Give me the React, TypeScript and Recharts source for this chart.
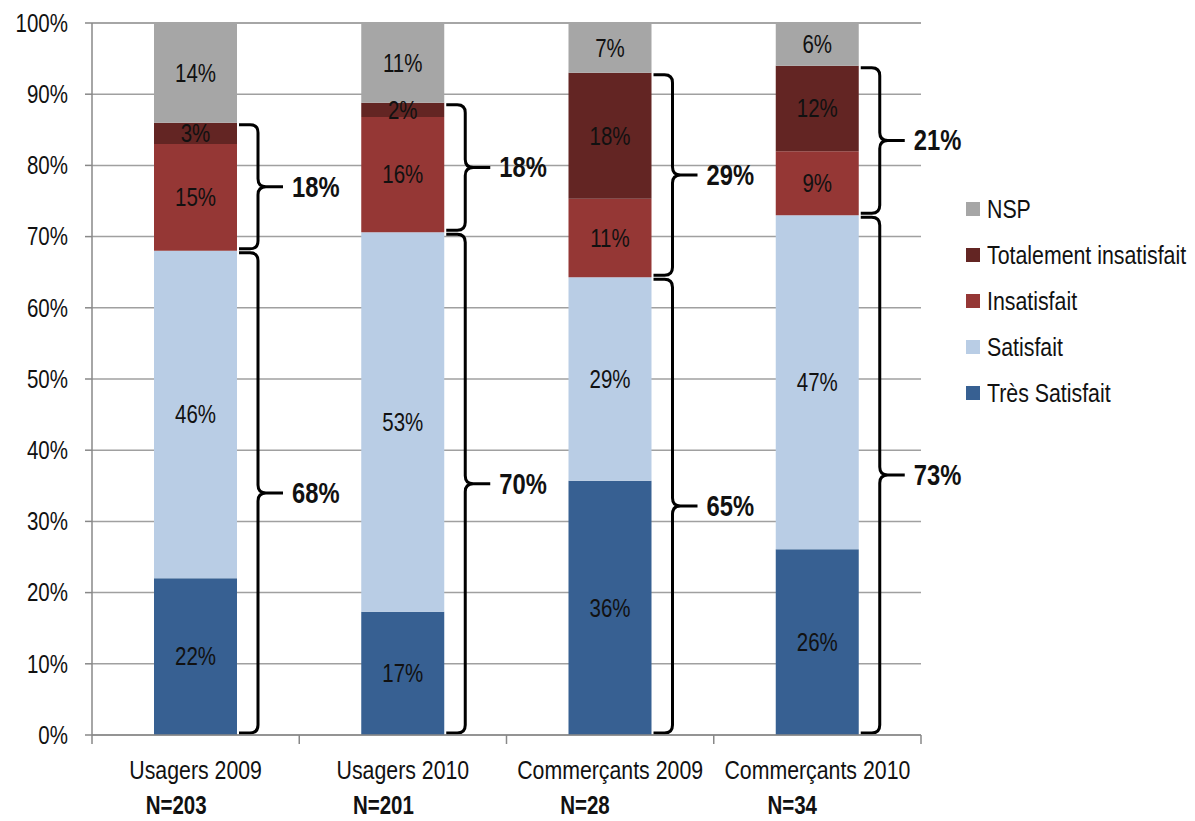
import { BarChart, Bar, XAxis, YAxis, CartesianGrid, Legend, LabelList, Rectangle } from 'recharts'

const categories = ['Usagers 2009', 'Usagers 2010', 'Commerçants 2009', 'Commerçants 2010']
const sampleSizes = ['N=203', 'N=201', 'N=28', 'N=34']
const tresSatisfait = [22.0, 17.3, 35.7, 26.1]
const satisfait = [46.0, 53.3, 28.6, 46.9]
const insatisfait = [15.0, 16.2, 11.0, 9.0]
const totalementInsatisfait = [3.0, 2.0, 17.7, 12.0]
const nsp = [14.0, 11.2, 7.0, 6.0]
const satisfiedTotals = [68, 70, 65, 73]
const dissatisfiedTotals = [18, 18, 29, 21]
const yTicks = [0, 10, 20, 30, 40, 50, 60, 70, 80, 90, 100]

// no Arial Narrow offline: squeeze Liberation Sans horizontally instead
const FONT = '"Liberation Sans", Arial, sans-serif'
const SQUEEZE = 0.82

const series = [
  { key: 'tres', name: 'Très Satisfait', color: '#376092' },
  { key: 'sat', name: 'Satisfait', color: '#B9CDE5' },
  { key: 'insat', name: 'Insatisfait', color: '#953735' },
  { key: 'totInsat', name: 'Totalement insatisfait', color: '#632523' },
  { key: 'nsp', name: 'NSP', color: '#A6A6A6' },
]

const data = categories.map((name, i) => ({
  name,
  n: sampleSizes[i],
  tres: tresSatisfait[i],
  sat: satisfait[i],
  insat: insatisfait[i],
  totInsat: totalementInsatisfait[i],
  nsp: nsp[i],
}))

function NText({ x, y, size, bold, anchor = 'middle', children }: any) {
  return (
    <text
      transform={`translate(${x},${y}) scale(${SQUEEZE},1)`}
      textAnchor={anchor}
      dominantBaseline="central"
      fontFamily={FONT}
      fontSize={size}
      fontWeight={bold ? 'bold' : 'normal'}
      fill="#111"
    >
      {children}
    </text>
  )
}

function bracePath(x0: number, top: number, bottom: number) {
  const xv = x0 + 19
  const xn = xv + 25
  const r = 8
  const mid = (top + bottom) / 2
  return [
    `M${x0},${top + 2} L${xv - r},${top + 2} Q${xv},${top + 2} ${xv},${top + 2 + r}`,
    `L${xv},${mid - r} Q${xv},${mid} ${xv + r},${mid} L${xn},${mid}`,
    `M${xv + r},${mid} Q${xv},${mid} ${xv},${mid + r}`,
    `L${xv},${bottom - 2 - r} Q${xv},${bottom - 2} ${xv - r},${bottom - 2} L${x0},${bottom - 2}`,
  ].join(' ')
}

function Brace({ x, top, bottom, label }: { x: number; top: number; bottom: number; label: number }) {
  const mid = (top + bottom) / 2
  return (
    <g>
      <path d={bracePath(x + 2, top, bottom)} fill="none" stroke="#000" strokeWidth={3} />
      <NText x={x + 55} y={mid} size={29} bold anchor="start">
        {label}%
      </NText>
    </g>
  )
}

// Satisfait segment + brace down to the baseline
function SatShape(props: any) {
  const { x, y, width, height, payload, index, fill } = props
  const ppu = height / payload.sat
  const bottom = y + height + payload.tres * ppu
  return (
    <g>
      <Rectangle x={x} y={y} width={width} height={height} fill={fill} />
      <Brace x={x + width} top={y} bottom={bottom} label={satisfiedTotals[index]} />
    </g>
  )
}

// Totalement insatisfait segment + brace covering both dissatisfied segments
function TotShape(props: any) {
  const { x, y, width, height, payload, index, fill } = props
  const ppu = height / payload.totInsat
  const bottom = y + height + payload.insat * ppu
  return (
    <g>
      <Rectangle x={x} y={y} width={width} height={height} fill={fill} />
      <Brace x={x + width} top={y} bottom={bottom} label={dissatisfiedTotals[index]} />
    </g>
  )
}

function CategoryTick(props: any) {
  const { x, y, payload, index } = props
  const half = payload.offset || 103.5
  return (
    <g>
      <line x1={x - half} y1={y - 8} x2={x - half} y2={y + 1} stroke="#888" strokeWidth={1.5} />
      {index === categories.length - 1 && (
        <line x1={x + half} y1={y - 8} x2={x + half} y2={y + 1} stroke="#888" strokeWidth={1.5} />
      )}
      <NText x={x} y={y + 27} size={26}>
        {payload.value}
      </NText>
      <NText x={x - 50} y={y + 62} size={25} bold anchor="start">
        {sampleSizes[index]}
      </NText>
    </g>
  )
}

function PercentTick(props: any) {
  const { x, y, payload } = props
  return (
    <NText x={x} y={y} size={25} anchor="end">
      {payload.value}%
    </NText>
  )
}

function SegmentLabel(props: any) {
  const box = props.viewBox || props
  const { x, y, width, height } = box
  return (
    <NText x={x + width / 2} y={y + height / 2} size={25}>
      {Math.round(Number(props.value))}%
    </NText>
  )
}

function LegendContent() {
  const items = [...series].reverse()
  return (
    <div style={{ fontFamily: FONT, fontSize: 26, color: '#111' }}>
      {items.map((s) => (
        <div key={s.key} style={{ display: 'flex', alignItems: 'center', height: 46 }}>
          <span style={{ width: 14, height: 14, background: s.color, marginRight: 7, flex: 'none' }} />
          <span
            style={{
              display: 'inline-block',
              whiteSpace: 'nowrap',
              transform: `scaleX(${SQUEEZE})`,
              transformOrigin: 'left center',
            }}
          >
            {s.name}
          </span>
        </div>
      ))}
    </div>
  )
}

export default function App() {
  return (
    <div style={{ position: 'absolute', left: 0, top: 0, width: 1195, height: 821, background: '#fff' }}>
      <BarChart
        width={1195}
        height={821}
        data={data}
        margin={{ top: 23, right: 38, left: 0, bottom: 0 }}
        barSize={83}
      >
        <CartesianGrid vertical={false} stroke="#A0A0A0" strokeWidth={1.5} />
        <XAxis
          dataKey="name"
          height={86}
          axisLine={{ stroke: '#888', strokeWidth: 1.5 }}
          tickLine={false}
          tick={<CategoryTick />}
          interval={0}
        />
        <YAxis
          width={92}
          domain={[0, 100]}
          ticks={yTicks}
          axisLine={{ stroke: '#888', strokeWidth: 1.5 }}
          tickLine={{ stroke: '#888', strokeWidth: 1.5 }}
          tickSize={7}
          tickMargin={17}
          tick={<PercentTick />}
          interval={0}
        />
        <Legend
          layout="horizontal"
          verticalAlign="middle"
          align="right"
          content={<LegendContent />}
          wrapperStyle={{ left: 966, top: 186, width: 236 }}
        />
        {series.map((s) => (
          <Bar
            key={s.key}
            dataKey={s.key}
            name={s.name}
            stackId="a"
            fill={s.color}
            isAnimationActive={false}
            shape={s.key === 'sat' ? <SatShape /> : s.key === 'totInsat' ? <TotShape /> : undefined}
          >
            <LabelList dataKey={s.key} position="center" content={<SegmentLabel />} />
          </Bar>
        ))}
      </BarChart>
    </div>
  )
}
